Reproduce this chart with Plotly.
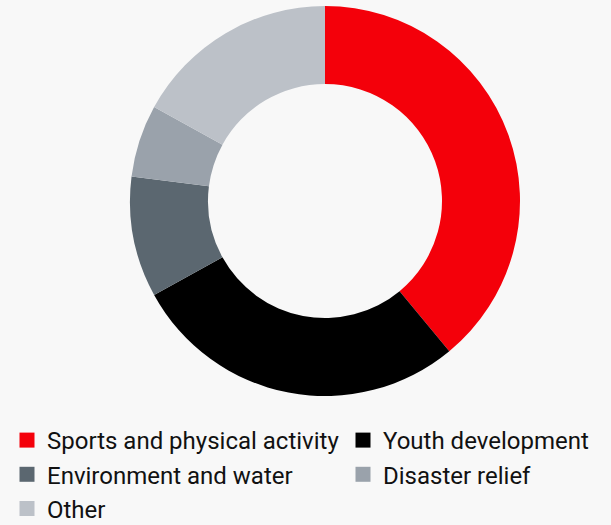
import plotly.graph_objects as go

categories = ["Sports and physical activity", "Youth development",
              "Environment and water", "Disaster relief", "Other"]
shares = [39, 28, 10, 6, 17]
colors = ["#f4000a", "#000000", "#5b6770", "#9aa2ab", "#bcc1c8"]
legend_ids = ["legend", "legend2", "legend", "legend2", "legend"]

fig = go.Figure()
fig.add_trace(go.Pie(
    labels=categories, values=shares, hole=0.6, sort=False,
    direction="clockwise", rotation=0,
    marker=dict(colors=colors, line=dict(width=0)),
    textinfo="none", showlegend=False,
    domain=dict(x=[130/611, 520/611], y=[129/525, 519/525]),
))

for cat, col, lid in zip(categories, colors, legend_ids):
    fig.add_trace(go.Scatter(
        x=[None], y=[None], mode="markers", name=cat,
        marker=dict(symbol="square", size=15, color=col, line=dict(width=0)),
        legend=lid, showlegend=True,
    ))

legend_common = dict(
    orientation="v", traceorder="normal",
    font=dict(family="Roboto", size=24, color="#111111"),
    bgcolor="rgba(0,0,0,0)", borderwidth=0,
    xanchor="left", yanchor="top",
)
fig.update_layout(
    width=611, height=525,
    margin=dict(l=0, r=0, t=0, b=0, autoexpand=False),
    paper_bgcolor="#f8f8f8", plot_bgcolor="#f8f8f8",
    xaxis=dict(visible=False), yaxis=dict(visible=False),
    legend=dict(x=7/611, y=1 - 418/525, **legend_common),
    legend2=dict(x=343/611, y=1 - 418/525, **legend_common),
)

fig.write_html(
    "out.html",
    config={"displayModeBar": False},
    post_script="document.body.style.margin='0';document.body.style.background='#f8f8f8';",
)
